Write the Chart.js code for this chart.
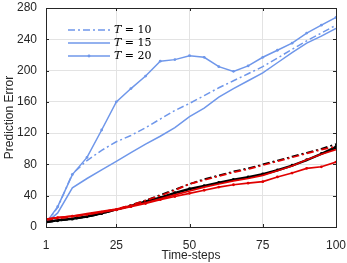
<!DOCTYPE html>
<html>
<head>
<meta charset="utf-8">
<script src="https://cdn.jsdelivr.net/npm/chart.js@4.4.1/dist/chart.umd.min.js"></script>
<style>
  html, body { margin: 0; padding: 0; background: #fff; }
</style>
</head>
<body>
<canvas id="errorChart" width="347" height="263"></canvas>
<script>
// time steps where every curve is sampled
const timeSteps = [1, 5, 10, 15, 20, 25, 30, 35, 40, 45, 50, 55, 60, 65, 70, 75, 80, 85, 90, 95, 100];
const xTicks = [1, 25, 50, 75, 100];
const yTicks = [0, 40, 80, 120, 160, 200, 240, 280];

// blue curves (in legend)
const blueT10 = [5, 25, 68, 85, 98, 109, 117, 127, 138, 149, 158, 168, 178, 187, 196, 205, 216, 227, 238, 248, 258];
const blueT15 = [5, 18, 50, 62, 73, 84, 95, 106, 116, 127, 141, 152, 166, 177, 187, 197, 210, 223, 235, 244, 254];
const blueT20 = [5, 26, 67, 89, 124, 160, 177, 193, 212, 214, 219, 217, 205, 199, 206, 217, 226, 235, 248, 258, 268];

// red and black curves (not in legend)
const redDashDot = [9, 11, 13, 16, 19, 23, 28, 34, 40, 47, 55, 60, 65, 70, 74, 79, 84, 89, 94, 99, 103];
const redSolid = [10, 12, 14, 17, 20, 23, 27, 31, 36, 41, 46, 51, 55, 59, 62, 66, 72, 78, 86, 93, 99];
const redMarked = [10, 12, 14, 16, 19, 22, 26, 30, 35, 39, 43, 47, 51, 54, 56, 58, 64, 69, 75, 77, 83];
const blackDashDot = [6, 8, 10, 13, 17, 22, 28, 34, 41, 48, 55, 61, 66, 71, 75, 80, 85, 90, 95, 100, 106];
const blackSolid = [7, 9, 11, 14, 18, 22, 27, 32, 37, 43, 48, 52, 56, 60, 63, 67, 72, 78, 85, 93, 101];
const blackMarked = [6, 8, 10, 13, 17, 22, 27, 33, 38, 44, 49, 53, 57, 61, 64, 68, 73, 79, 86, 94, 103];

const legendLabels = ["10", "15", "20"];

const BLUE = "#6f97ea";
const RED = "#e00000";
const BLACK = "#000000";
const DASH_DOT = [7, 3, 2, 3];

function pts(values) {
  return values.map((v, i) => ({ x: timeSteps[i], y: v }));
}

function series(values, color, dash, marked, width) {
  return {
    data: pts(values),
    borderColor: color,
    backgroundColor: color,
    borderWidth: width,
    borderDash: dash,
    pointRadius: marked ? 1.4 : 0,
    pointBorderWidth: 0,
    tension: 0,
  };
}

const datasets = [
  series(redSolid, RED, [], false, 1.7),
  series(redMarked, RED, [], true, 1.7),
  series(redDashDot, RED, DASH_DOT, false, 1.7),
  series(blackSolid, BLACK, [], false, 1.7),
  series(blackMarked, BLACK, [], true, 1.7),
  series(blackDashDot, BLACK, DASH_DOT, false, 1.7),
  series(blueT10, BLUE, DASH_DOT, false, 1.5),
  series(blueT15, BLUE, [], false, 1.5),
  series(blueT20, BLUE, [], true, 1.5),
];
const legendSets = [6, 7, 8];

// box around the plot with inward tick marks, MATLAB style
const boxPlugin = {
  id: "box",
  afterDatasetsDraw(chart) {
    const { ctx, chartArea: a, scales } = chart;
    ctx.save();
    ctx.strokeStyle = "#262626";
    ctx.lineWidth = 1;
    ctx.strokeRect(a.left + 0.5, a.top + 0.5, a.right - a.left, a.bottom - a.top);
    ctx.beginPath();
    xTicks.forEach((t) => {
      const px = Math.round(scales.x.getPixelForValue(t)) + 0.5;
      ctx.moveTo(px, a.bottom); ctx.lineTo(px, a.bottom - 3);
      ctx.moveTo(px, a.top); ctx.lineTo(px, a.top + 3);
    });
    yTicks.forEach((t) => {
      const py = Math.round(scales.y.getPixelForValue(t)) + 0.5;
      ctx.moveTo(a.left, py); ctx.lineTo(a.left + 3, py);
      ctx.moveTo(a.right, py); ctx.lineTo(a.right - 3, py);
    });
    ctx.stroke();
    ctx.restore();
  },
};

// legend drawn inside the top-left of the plot
const legendPlugin = {
  id: "insideLegend",
  afterDatasetsDraw(chart) {
    const { ctx, chartArea: a } = chart;
    ctx.save();
    legendSets.forEach((di, i) => {
      const ds = chart.data.datasets[di];
      const y = a.top + 22 + i * 13;
      const x0 = a.left + 22;
      const x1 = a.left + 64;
      ctx.strokeStyle = ds.borderColor;
      ctx.lineWidth = 1.5;
      ctx.setLineDash(ds.borderDash);
      ctx.beginPath();
      ctx.moveTo(x0, y); ctx.lineTo(x1, y);
      ctx.stroke();
      ctx.setLineDash([]);
      if (ds.pointRadius > 0) {
        ctx.fillStyle = ds.borderColor;
        ctx.beginPath();
        ctx.arc((x0 + x1) / 2, y, 1.4, 0, Math.PI * 2);
        ctx.fill();
      }
      ctx.fillStyle = "#000";
      ctx.textBaseline = "middle";
      ctx.font = "italic 11px 'DejaVu Serif'";
      ctx.fillText("T", x1 + 4, y);
      const w = ctx.measureText("T").width;
      ctx.font = "11px 'DejaVu Serif'";
      ctx.fillText(" = " + legendLabels[i], x1 + 4 + w, y);
    });
    ctx.restore();
  },
};

const tickFont = { family: "'Liberation Sans', Arial, sans-serif", size: 12 };

new Chart(document.getElementById("errorChart"), {
  type: "line",
  data: { datasets },
  plugins: [boxPlugin, legendPlugin],
  options: {
    responsive: false,
    animation: false,
    layout: { padding: { top: 8, right: 11, left: 0, bottom: 0 } },
    plugins: { legend: { display: false }, tooltip: { enabled: false } },
    scales: {
      x: {
        type: "linear",
        min: 1,
        max: 100,
        afterBuildTicks: (s) => { s.ticks = xTicks.map((v) => ({ value: v })); },
        afterFit: (s) => { s.height = 36; s.paddingLeft = 0; s.paddingRight = 0; },
        ticks: { color: "#262626", font: tickFont, padding: 11, maxRotation: 0 },
        grid: { color: "#e3e3e3", drawTicks: false },
        border: { display: false },
        title: { display: true, text: "Time-steps", color: "#262626", font: tickFont, padding: 0 },
      },
      y: {
        min: 0,
        max: 280,
        afterBuildTicks: (s) => { s.ticks = yTicks.map((v) => ({ value: v })); },
        afterFit: (s) => { s.width = 46; s.paddingTop = 0; s.paddingBottom = 0; },
        ticks: { color: "#262626", font: tickFont, padding: 9 },
        grid: { color: "#e3e3e3", drawTicks: false },
        border: { display: false },
        title: { display: true, text: "Prediction Error", color: "#262626", font: tickFont, padding: 2 },
      },
    },
  },
});
</script>
</body>
</html>
